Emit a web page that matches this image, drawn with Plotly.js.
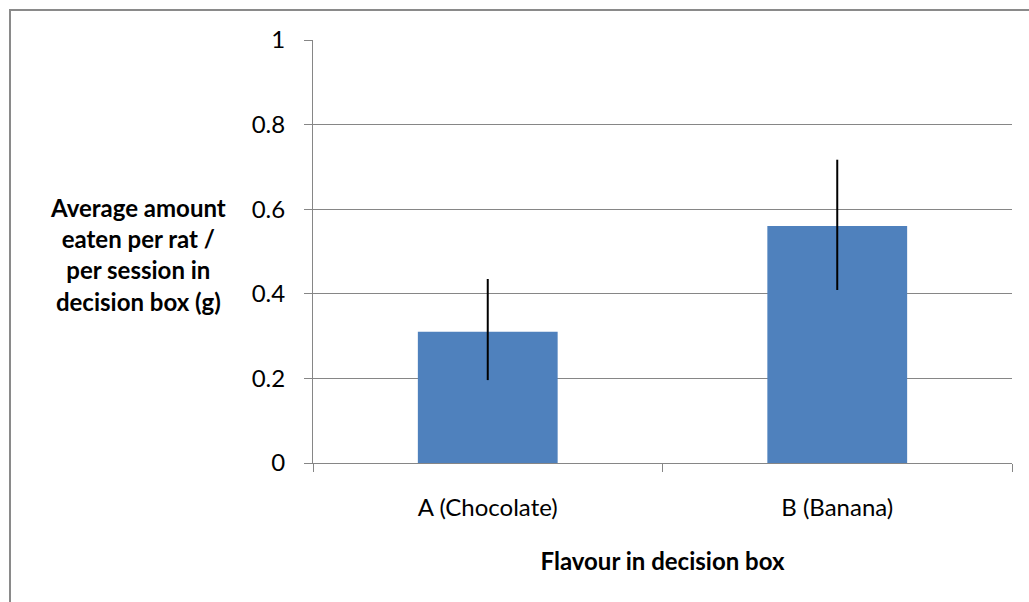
<!DOCTYPE html>
<html>
<head>
<meta charset="utf-8">
<script src="https://cdn.plot.ly/plotly-3.0.1.min.js"></script>
<style>
  html, body { margin: 0; padding: 0; overflow: hidden; background: #fff; }
  #wrap { position: relative; width: 1029px; height: 602px; }
  #chart { width: 1029px; height: 602px; }
  #frame { position: absolute; left: 9px; top: 9px; width: 1100px; height: 700px;
           border: 2px solid #8a8a8a; pointer-events: none; box-sizing: border-box; }
</style>
</head>
<body>
<div id="wrap">
  <div id="chart"></div>
  <div id="frame"></div>
</div>
<script>
const categories = ["A (Chocolate)", "B (Banana)"];
const meanEaten = [0.31, 0.56];
const errorPlus = [0.125, 0.157];
const errorMinus = [0.114, 0.151];
const yTickValues = [0, 0.2, 0.4, 0.6, 0.8, 1];
const yTickLabels = ["0", "0.2", "0.4", "0.6", "0.8", "1"];
const xTitle = "Flavour in decision box";
const yTitleLines = ["Average amount", "eaten per rat /", "per session in", "decision box (g)"];

const FONT = "Lato, 'Open Sans', sans-serif";
const FS = 24;

const trace = {
  type: "bar",
  x: categories,
  y: meanEaten,
  marker: { color: "#4f81bd", line: { width: 0 } },
  error_y: {
    type: "data",
    symmetric: false,
    array: errorPlus,
    arrayminus: errorMinus,
    color: "#000000",
    thickness: 2,
    width: 0
  },
  hoverinfo: "skip"
};

const layout = {
  width: 1029,
  height: 602,
  margin: { l: 313, r: 17, t: 40, b: 139, pad: 0 },
  paper_bgcolor: "#ffffff",
  plot_bgcolor: "#ffffff",
  showlegend: false,
  bargap: 0.6,
  font: { family: FONT, size: FS, color: "#000000" },
  xaxis: {
    type: "category",
    showgrid: false,
    showline: true,
    linecolor: "#868686",
    linewidth: 1,
    ticks: "outside",
    tickson: "boundaries",
    ticklen: 8,
    tickcolor: "#868686",
    ticklabelstandoff: 23,
    tickfont: { family: FONT, size: FS, color: "#000" },
    title: { text: xTitle, font: { family: FONT, size: FS, color: "#000", weight: "bold" }, standoff: 33 },
    zeroline: false,
    fixedrange: true
  },
  yaxis: {
    range: [0, 1],
    tickvals: yTickValues,
    ticktext: yTickLabels,
    showgrid: true,
    gridcolor: "#868686",
    gridwidth: 1,
    showline: true,
    linecolor: "#868686",
    linewidth: 1,
    ticks: "outside",
    ticklen: 8,
    tickcolor: "#868686",
    ticklabelstandoff: 14,
    tickfont: { family: FONT, size: FS, color: "#000" },
    zeroline: false,
    fixedrange: true
  },
  annotations: [{
    xref: "paper", yref: "paper",
    x: -0.25, y: 0.494,
    xanchor: "center", yanchor: "middle",
    text: "<b>" + yTitleLines.join("<br>") + "</b>",
    showarrow: false,
    align: "center",
    font: { family: FONT, size: FS, color: "#000" }
  }]
};

Plotly.newPlot("chart", [trace], layout, { displayModeBar: false, staticPlot: true });
</script>
</body>
</html>
